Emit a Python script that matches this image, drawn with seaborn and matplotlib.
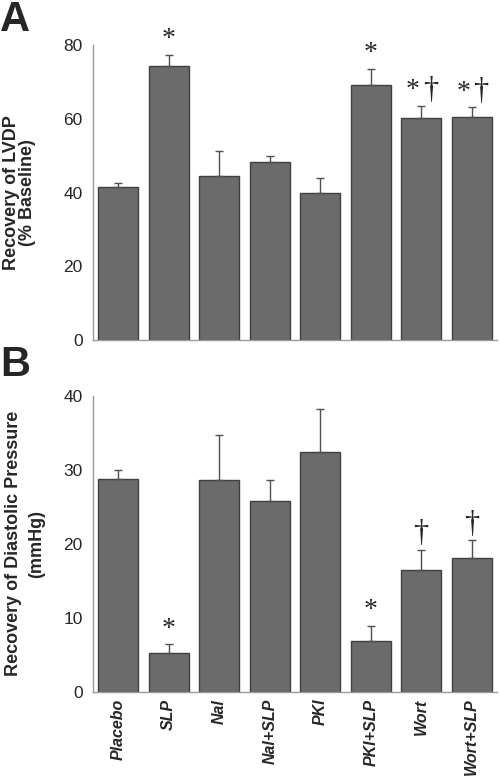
import numpy as np
import pandas as pd
import seaborn as sns
import matplotlib.pyplot as plt

# groups and values
groups = ["Placebo", "SLP", "Nal", "Nal+SLP", "PKI", "PKI+SLP", "Wort", "Wort+SLP"]
lvdp = [41.5, 74.4, 44.4, 48.3, 39.8, 69.3, 60.1, 60.4]
lvdp_err = [1.2, 3.0, 6.9, 1.5, 4.2, 4.3, 3.3, 2.7]
dias = [28.7, 5.2, 28.6, 25.8, 32.4, 6.8, 16.5, 18.1]
dias_err = [1.3, 1.2, 6.1, 2.8, 5.8, 2.1, 2.7, 2.4]
# significance marks: "*" vs placebo, "†" vs SLP
marks_a = ["", "*", "", "", "", "*", "*†", "*†"]
marks_b = ["", "*", "", "", "", "*", "†", "†"]

sns.set_style("white")
plt.rcParams['font.family'] = ['Liberation Sans', 'DejaVu Sans']

bar_col = "#6b6b6b"
edge_col = "#404040"
spine_col = "#9a9a9a"

fig = plt.figure(figsize=(5, 7.81), dpi=100)
axA = fig.add_axes([0.186, 0.5647, 0.808, 0.3776])
axB = fig.add_axes([0.186, 0.1143, 0.808, 0.379])


def draw_panel(ax, vals, errs, marks, ymax, yticks, ylabel, linesp, labx, show_labels):
    df = pd.DataFrame({"group": groups, "value": vals})
    sns.barplot(data=df, x="group", y="value", order=groups, color=bar_col,
                saturation=1, edgecolor=edge_col, linewidth=1, width=0.8,
                errorbar=None, ax=ax)
    xs = [p.get_x() + p.get_width() / 2 for p in ax.patches]
    ax.errorbar(xs, vals, yerr=[np.zeros(len(vals)), errs], fmt="none",
                ecolor="#505050", elinewidth=1, capsize=3, capthick=1)
    ax.set_xlim(-0.5, len(groups) - 0.5)
    ax.set_ylim(0, ymax)
    ax.set_yticks(yticks)
    ax.set_xticks(np.arange(-0.5, len(groups), 1))
    ax.set_xticklabels([])
    ax.set_xticks(range(len(groups)), minor=True)
    if show_labels:
        ax.set_xticklabels(groups, minor=True, rotation=90, fontweight="bold",
                           fontstyle="italic", fontsize=11.5)
    ax.tick_params(axis="x", which="minor", length=0, pad=5)
    ax.tick_params(axis="both", which="major", direction="out", length=4,
                   color=spine_col, labelsize=12.5, width=1)
    for s in ["top", "right"]:
        ax.spines[s].set_visible(False)
    for s in ["left", "bottom"]:
        ax.spines[s].set_color(spine_col)
        ax.spines[s].set_linewidth(1)
    ax.set_xlabel("")
    ax.set_ylabel(ylabel, fontsize=13, fontweight="bold", linespacing=linesp)
    ax.yaxis.set_label_coords(labx, 0.5)
    for x, v, e, m in zip(xs, vals, errs, marks):
        top = v + e
        if m == "*":
            ax.annotate("*", (x, top), xytext=(0, 11), textcoords="offset points",
                        ha="center", va="center", fontsize=20,
                        family="Liberation Serif")
        elif m == "†":
            ax.annotate("†", (x, top), xytext=(0, 1), textcoords="offset points",
                        ha="center", va="bottom", fontsize=22,
                        family="Liberation Serif")
        elif m == "*†":
            ax.annotate("*", (x, top), xytext=(-6, 11), textcoords="offset points",
                        ha="center", va="center", fontsize=20,
                        family="Liberation Serif")
            ax.annotate("†", (x, top), xytext=(6.5, 1), textcoords="offset points",
                        ha="center", va="bottom", fontsize=22,
                        family="Liberation Serif")


draw_panel(axA, lvdp, lvdp_err, marks_a, 80, [0, 20, 40, 60, 80],
           "Recovery of LVDP\n(% Baseline)", 0.92, -0.142, False)
draw_panel(axB, dias, dias_err, marks_b, 40, [0, 10, 20, 30, 40],
           "Recovery of Diastolic Pressure\n(mmHg)", 1.45, -0.118, True)

fig.text(0.0, 1.0, "A", fontsize=30, fontweight="bold", va="top", ha="left")
fig.text(0.0, 1 - 345 / 781, "B", fontsize=30, fontweight="bold", va="top", ha="left")

fig.savefig("out.png", dpi=100)
